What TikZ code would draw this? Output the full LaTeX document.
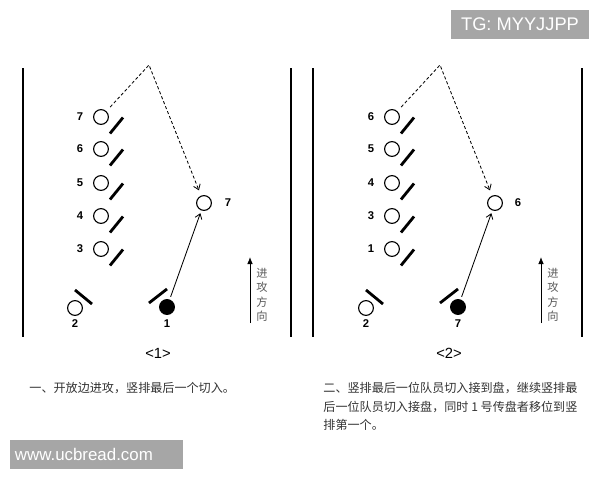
\documentclass[tikz,border=0pt]{standalone}
\usepackage{fontspec}
\setmainfont{Liberation Sans}
\newfontfamily\cjk{Noto Sans CJK SC}
\usetikzlibrary{arrows,arrows.meta}
\definecolor{wmgray}{RGB}{166,166,166}
\definecolor{txtgray}{RGB}{50,50,50}

\begin{document}
\begin{tikzpicture}[x=0.025cm,y=-0.025cm,semithick,>={Straight Barb[length=3.5pt,width=5pt]},
  plr/.style={circle,draw,line width=0.8pt,inner sep=0pt,minimum size=0.37cm},
  hold/.style={plr,fill=black},
  guard/.style={line width=2pt},
  side/.style={line width=1.4pt},
  num/.style={font=\bfseries\fontsize{8}{9}\selectfont},
  dirtxt/.style={font=\cjk\fontsize{8}{10.3}\selectfont,align=center,text=black!65,inner sep=0pt},
  cjktxt/.style={font=\cjk\fontsize{8.6}{13.2}\selectfont,text=txtgray,align=left,inner sep=0pt},
  wm/.style={fill=wmgray,text=white,inner sep=0pt,minimum height=0.725cm}]
\useasboundingbox (0,0) rectangle (600,480);
% panel <1>
\draw[side] (23,68) -- (23,337) (291,68) -- (291,337);
\foreach \n/\y in {7/117,6/149,5/183,4/216,3/249}{
  \node[plr] (a\n) at (101,\y) {};
  \node[num] (an\n) at (80,\y) {\n};
  \draw[guard] ([shift={(9,16.5)}]a\n.center) -- ++(13,-16);
}
\node[plr] (a2) at (75,308) {};
\node[num] (an2) at (75,324) {2};
\draw[guard] ([shift={(0,-18)}]a2.center) -- ++(17,14);
\node[hold] (a1) at (167,307) {};
\node[num] (an1) at (167,324) {1};
\draw[guard] ([shift={(-18,-4)}]a1.center) -- ++(18,-14);
\node[plr] (cut1) at (204,203) {};
\node[num] (cutn1) at (228,203) {7};
\coordinate (top1) at (149,65);
\draw[->,dash pattern=on 2.2pt off 1.6pt,shorten <=4pt,shorten >=4pt] (a7) -- (top1) -- (cut1);
\draw[->,shorten <=2pt,shorten >=2pt] (a1) -- (cut1);
\coordinate (dira1) at (250,323);
\coordinate (dirb1) at (250,257);
\draw[-{Latex[length=5pt,width=4pt]}] (dira1) -- (dirb1);
\node[dirtxt] (dirt1) at (262,295) {进\\攻\\方\\向};
\node[font=\fontsize{10.5}{12}\selectfont] (cap1) at (158,353) {<1>};
\node[cjktxt,anchor=west] (txt1) at (29,388) {一、开放边进攻，竖排最后一个切入。};
% panel <2>
\draw[side] (313,68) -- (313,337) (582,68) -- (582,337);
\foreach \n/\y in {6/117,5/149,4/183,3/216,1/249}{
  \node[plr] (b\n) at (392,\y) {};
  \node[num] (bn\n) at (371,\y) {\n};
  \draw[guard] ([shift={(9,16.5)}]b\n.center) -- ++(13,-16);
}
\node[plr] (b2) at (366,308) {};
\node[num] (bn2) at (366,324) {2};
\draw[guard] ([shift={(0,-18)}]b2.center) -- ++(17,14);
\node[hold] (b7) at (458,307) {};
\node[num] (bn7) at (458,324) {7};
\draw[guard] ([shift={(-18,-4)}]b7.center) -- ++(18,-14);
\node[plr] (cut2) at (495,203) {};
\node[num] (cutn2) at (518,203) {6};
\coordinate (top2) at (440,65);
\draw[->,dash pattern=on 2.2pt off 1.6pt,shorten <=4pt,shorten >=4pt] (b6) -- (top2) -- (cut2);
\draw[->,shorten <=2pt,shorten >=2pt] (b7) -- (cut2);
\coordinate (dira2) at (541,323);
\coordinate (dirb2) at (541,257);
\draw[-{Latex[length=5pt,width=4pt]}] (dira2) -- (dirb2);
\node[dirtxt] (dirt2) at (553,295) {进\\攻\\方\\向};
\node[font=\fontsize{10.5}{12}\selectfont] (cap2) at (449,353) {<2>};
\node[cjktxt,anchor=north west] (txt2) at (323,382) {二、竖排最后一位队员切入接到盘，继续竖排最\\后一位队员切入接盘，同时 1 号传盘者移位到竖\\排第一个。};
% watermarks
\node[wm,minimum width=3.45cm,font=\fontsize{13}{13}\selectfont] (tg) at (520,24.5) {TG: MYYJJPP};
\node[wm,text width=4.075cm,inner xsep=0.125cm,align=left,font=\fontsize{12}{12}\selectfont] (site) at (96.5,454.5) {www.ucbread.com};
\end{tikzpicture}
\end{document}
